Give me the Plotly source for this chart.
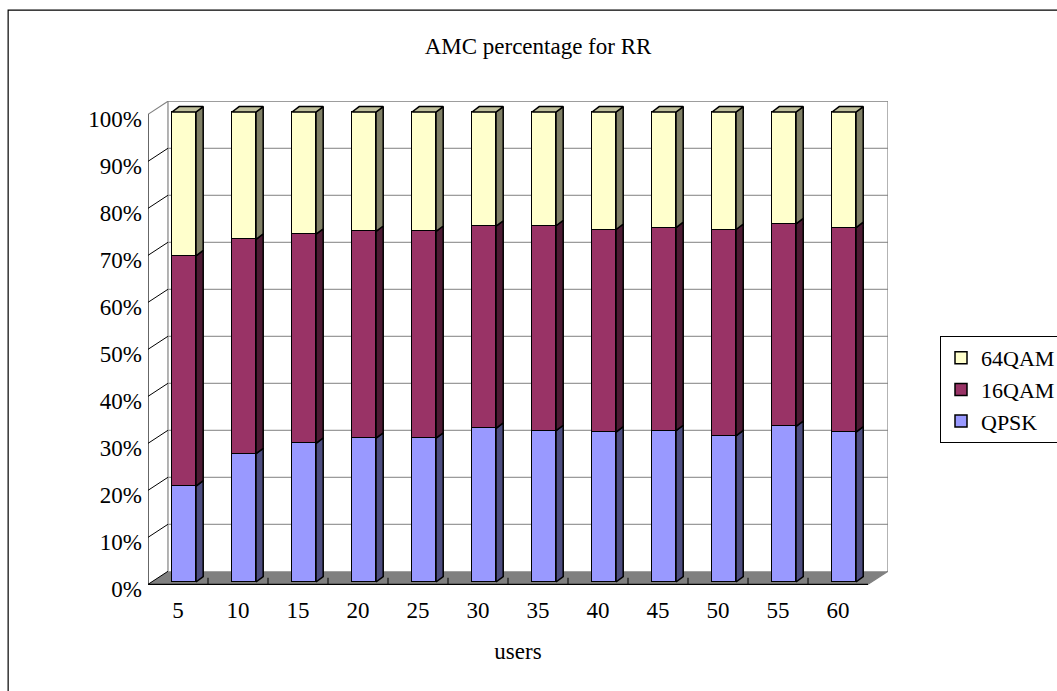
import plotly.graph_objects as go

# ---- data -------------------------------------------------------------
users = ["5", "10", "15", "20", "25", "30", "35", "40", "45", "50", "55", "60"]
qpsk = [20.4, 27.3, 29.5, 30.6, 30.6, 32.7, 32.2, 31.9, 32.2, 31.1, 33.1, 31.9]
qam16 = [49.0, 45.6, 44.5, 44.0, 44.0, 43.0, 43.6, 43.1, 43.2, 43.9, 43.1, 43.5]
qam64 = [30.6, 27.1, 26.0, 25.4, 25.4, 24.3, 24.2, 25.0, 24.6, 25.0, 23.8, 24.6]
pct_ticks = [0, 10, 20, 30, 40, 50, 60, 70, 80, 90, 100]

# name, values, front colour, side colour (bottom to top of the stack)
series = [
    ("QPSK", qpsk, "#9999FF", "#4D4D80"),
    ("16QAM", qam16, "#993366", "#4D1A33"),
    ("64QAM", qam64, "#FFFFCC", "#808066"),
]
TOP_COLOR = "#C0C09C"

# ---- pseudo-3D geometry (x in category units, y in percent units) -----
BAR_W = 0.4
BAR_DX, BAR_DY = 0.12, 1.15      # depth of each column
AX_DX, AX_DY = -0.1, -0.5        # front axis plane relative to the bar plane
WALL_DX, WALL_DY = 0.233, 2.28   # back wall relative to the bar plane
FONT = "Liberation Serif"

n = len(users)
xs = list(range(n))

# 100 % stacking
totals = [sum(s[1][i] for s in series) for i in xs]
shares = [[v / t * 100 for v, t in zip(s[1], totals)] for s in series]

fig = go.Figure()

# front faces
for (name, _, color, _), vals in zip(series, shares):
    fig.add_trace(go.Bar(
        x=xs, y=vals, name=name, width=BAR_W,
        marker=dict(color=color, line=dict(color="black", width=1.5)),
        hoverinfo="skip",
    ))

# side faces (right) of every segment
base = [0.0] * n
for (name, _, color, side), vals in zip(series, shares):
    px, py = [], []
    for i in xs:
        y0, y1 = base[i], base[i] + vals[i]
        xr = i + BAR_W / 2
        px += [xr, xr + BAR_DX, xr + BAR_DX, xr, xr, None]
        py += [y0, y0 + BAR_DY, y1 + BAR_DY, y1, y0, None]
        base[i] = y1
    fig.add_trace(go.Scatter(
        x=px, y=py, mode="lines", fill="toself", fillcolor=side,
        line=dict(color="black", width=1.5), showlegend=False, hoverinfo="skip",
    ))

# top faces of the columns
px, py = [], []
for i in xs:
    xl, xr, yt = i - BAR_W / 2, i + BAR_W / 2, base[i]
    px += [xl, xl + BAR_DX, xr + BAR_DX, xr, xl, None]
    py += [yt, yt + BAR_DY, yt + BAR_DY, yt, yt, None]
fig.add_trace(go.Scatter(
    x=px, y=py, mode="lines", fill="toself", fillcolor=TOP_COLOR,
    line=dict(color="black", width=1.5), showlegend=False, hoverinfo="skip",
))

# ---- walls, floor and axes ------------------------------------------------
ax_l, ax_r = -0.5 + AX_DX, n - 0.5 + AX_DX
wl_l, wl_r = -0.5 + WALL_DX, n - 0.5 + WALL_DX
y_ax0 = 0 + AX_DY
y_wl0, y_wl1 = 0 + WALL_DY, 100 + WALL_DY

shapes = []
# floor
shapes.append(dict(
    type="path", layer="below", line=dict(width=0), fillcolor="#808080",
    path=f"M{ax_l},{y_ax0} L{ax_r},{y_ax0} L{wl_r},{y_wl0} L{wl_l},{y_wl0} Z",
))
# back-wall gridlines
for v in pct_ticks[1:]:
    shapes.append(dict(type="line", layer="below", x0=wl_l, x1=wl_r,
                       y0=v + WALL_DY, y1=v + WALL_DY,
                       line=dict(color="#808080", width=1)))
# wall edges
for x0, y0, x1, y1 in [(wl_l, y_wl0, wl_l, y_wl1), (wl_r, y_wl0, wl_r, y_wl1),
                       (ax_l, 100 + AX_DY, wl_l, y_wl1),
                       (ax_r, y_ax0, wl_r, y_wl0)]:
    shapes.append(dict(type="line", layer="below", x0=x0, y0=y0, x1=x1, y1=y1,
                       line=dict(color="#808080", width=1.2)))
# diagonals from the value axis to the back wall
for v in pct_ticks[:-1]:
    shapes.append(dict(type="line", layer="below", x0=ax_l, y0=v + AX_DY,
                       x1=wl_l, y1=v + WALL_DY, line=dict(color="black", width=1)))
# value axis and category axis
shapes.append(dict(type="line", layer="below", x0=ax_l, x1=ax_l,
                   y0=y_ax0, y1=100 + AX_DY, line=dict(color="black", width=1.2)))
shapes.append(dict(type="line", layer="below", x0=ax_l, x1=ax_r,
                   y0=y_ax0, y1=y_ax0, line=dict(color="black", width=1.2)))
for k in range(1, n):
    xb = k - 0.5 + AX_DX
    shapes.append(dict(type="line", layer="below", x0=xb, x1=xb,
                       y0=y_ax0, y1=y_ax0 + 1.4, line=dict(color="black", width=1)))
# chart frame
shapes.append(dict(type="rect", xref="paper", yref="paper", layer="below",
                   x0=-0.189, x1=1.25, y0=-0.25, y1=1.186,
                   line=dict(color="black", width=1.2)))

fig.update_layout(
    width=1057, height=691,
    margin=dict(l=148, r=169, t=101, b=101, autoexpand=False),
    paper_bgcolor="white", plot_bgcolor="rgba(0,0,0,0)",
    barmode="stack", bargap=0,
    font=dict(family=FONT, color="black", size=23),
    title=dict(text="AMC percentage for RR", xref="container", yref="container",
               x=0.509, y=1 - 46 / 691, xanchor="center", yanchor="middle",
               font=dict(family=FONT, size=23, color="black")),
    shapes=shapes,
    legend=dict(x=(940 - 148) / 740, y=(590 - 336) / 489, xanchor="left", yanchor="top",
                traceorder="reversed", bordercolor="black", borderwidth=1,
                font=dict(family=FONT, size=22), bgcolor="white"),
    xaxis=dict(range=[ax_l, wl_r], showgrid=False, zeroline=False, showline=False,
               tickvals=[i + AX_DX for i in xs], ticktext=users, ticks="",
               ticklabelstandoff=4,
               title=dict(text="users", standoff=20, font=dict(family=FONT, size=23))),
    yaxis=dict(range=[-1.7, 100 + WALL_DY + 0.06], showgrid=False, zeroline=False,
               showline=False, tickvals=pct_ticks, ticktext=[f"{v}%" for v in pct_ticks],
               ticks="", ticklabelshift=7, ticklabelstandoff=5),
)

fig.write_html("out.html")
